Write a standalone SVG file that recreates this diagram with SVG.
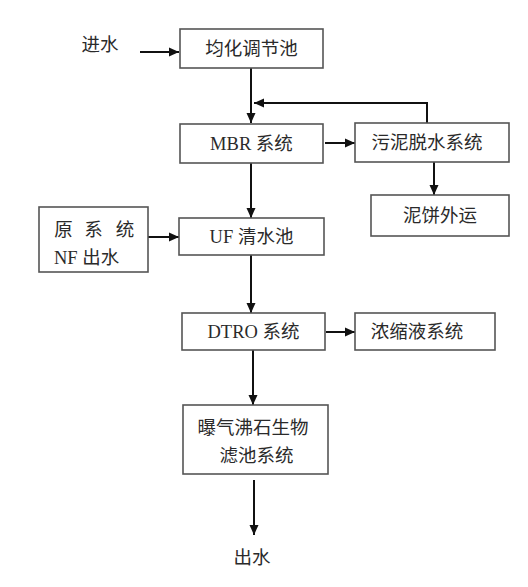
<svg xmlns="http://www.w3.org/2000/svg" width="528" height="587" viewBox="0 0 528 587">
<style>
.box{fill:#fff;stroke:#555;stroke-width:1.6}
.t{font-family:"Liberation Serif","Noto Sans CJK SC",serif;font-size:18.5px;fill:#2a2a2a;text-anchor:middle;dominant-baseline:central}
.tl{text-anchor:start}
.c{fill:none;stroke:#111;stroke-width:2}
</style>
<defs>
<marker id="ah" viewBox="0 0 10 10" refX="10" refY="5" markerWidth="10" markerHeight="10" markerUnits="userSpaceOnUse" orient="auto">
<path d="M0,0.5 L10,5 L0,9.5 Z" fill="#111"/>
</marker>
</defs>
<rect width="528" height="587" fill="#fff"/>
<g id="connectors">
<path class="c" d="M140,52 H179" marker-end="url(#ah)"/>
<path class="c" d="M251,68 V123" marker-end="url(#ah)"/>
<path class="c" d="M427,123 V103 H254" marker-end="url(#ah)"/>
<path class="c" d="M325,143 H355" marker-end="url(#ah)"/>
<path class="c" d="M434,162 V195" marker-end="url(#ah)"/>
<path class="c" d="M251,163 V218" marker-end="url(#ah)"/>
<path class="c" d="M148,237 H179" marker-end="url(#ah)"/>
<path class="c" d="M251,255 V313" marker-end="url(#ah)"/>
<path class="c" d="M326,332 H355" marker-end="url(#ah)"/>
<path class="c" d="M253,350 V405" marker-end="url(#ah)"/>
<path class="c" d="M254,480 V535" marker-end="url(#ah)"/>
</g>
<g id="inlet"><text class="t" x="100" y="45">进水</text></g>
<g id="equalization"><rect class="box" x="180" y="29" width="143" height="39"/><text class="t" x="251.5" y="49">均化调节池</text></g>
<g id="mbr"><rect class="box" x="180" y="124" width="143" height="39"/><text class="t" x="251.5" y="144">MBR 系统</text></g>
<g id="sludge"><rect class="box" x="355" y="123" width="154" height="39"/><text class="t" x="427" y="143">污泥脱水系统</text></g>
<g id="cake"><rect class="box" x="371" y="195" width="138" height="41"/><text class="t" x="440" y="216">泥饼外运</text></g>
<g id="nf"><rect class="box" x="39" y="207" width="109" height="65"/><text class="t" y="229.5"><tspan x="63.5">原</tspan><tspan x="93.5">系</tspan><tspan x="125">统</tspan></text><text class="t tl" x="54" y="257.5">NF 出水</text></g>
<g id="uf"><rect class="box" x="179" y="218" width="145" height="37"/><text class="t" x="251.5" y="237">UF 清水池</text></g>
<g id="dtro"><rect class="box" x="182" y="313" width="143" height="37"/><text class="t" x="253.5" y="332">DTRO 系统</text></g>
<g id="concentrate"><rect class="box" x="355" y="313" width="140" height="37"/><text class="t" x="417" y="332">浓缩液系统</text></g>
<g id="biofilter"><rect class="box" x="183" y="405" width="145" height="69"/><text class="t" x="253" y="428">曝气沸石生物</text><text class="t" x="256.5" y="456">滤池系统</text></g>
<g id="outlet"><text class="t" x="252" y="558">出水</text></g>
</svg>
